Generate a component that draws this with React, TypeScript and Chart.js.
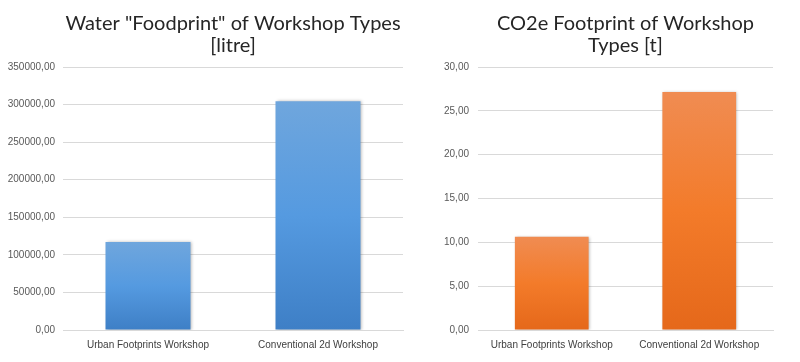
import React, { useEffect, useRef } from "react";
import { Chart, registerables } from "chart.js";

Chart.register(...registerables);

const categories = ["Urban Footprints Workshop", "Conventional 2d Workshop"];
const waterValues = [117000, 304500];
const co2Values = [10.65, 27.15];
const waterTitle = ['Water "Foodprint" of Workshop Types', "[litre]"];
const co2Title = ["CO2e Footprint of Workshop", "Types [t]"];

const shadowPlugin = {
  id: "barShadow",
  beforeDatasetsDraw(chart: any) {
    const ctx = chart.ctx;
    ctx.save();
    ctx.shadowColor = "rgba(0,0,0,0.28)";
    ctx.shadowBlur = 3;
    ctx.shadowOffsetX = 1;
    ctx.shadowOffsetY = 0;
  },
  afterDatasetsDraw(chart: any) {
    chart.ctx.restore();
  },
};

function makeConfig(
  title: string[],
  values: number[],
  max: number,
  step: number,
  topColor: string,
  bottomColor: string,
  padRight: number,
  labelPad: number
): any {
  return {
    type: "bar",
    data: {
      labels: categories,
      datasets: [
        {
          data: values,
          backgroundColor: (c: any) => {
            const area = c.chart.chartArea;
            const ys = c.chart.scales && c.chart.scales.y;
            if (!area || !ys || c.dataIndex === undefined) return bottomColor;
            const top = ys.getPixelForValue(values[c.dataIndex]);
            const g = c.chart.ctx.createLinearGradient(0, top, 0, area.bottom);
            g.addColorStop(0, topColor);
            g.addColorStop(0.5, bottomColor === "#3e7fc6" ? "#559ae0" : "#f37b2a");
            g.addColorStop(1, bottomColor);
            return g;
          },
          borderWidth: 0,
          barPercentage: 0.5,
          categoryPercentage: 1,
        },
      ],
    },
    options: {
      responsive: false,
      animation: false,
      layout: { padding: { left: 0, right: padRight, top: 0, bottom: 0 } },
      plugins: {
        legend: { display: false },
        tooltip: { enabled: false },
        title: {
          display: true,
          text: title,
          fullSize: false,
          color: "#262626",
          font: { family: "Lato", size: 20, weight: "normal", lineHeight: 1.1 },
          padding: { top: 13, bottom: 10 },
        },
      },
      scales: {
        x: {
          grid: { display: false, drawTicks: false },
          border: { display: true, color: "#d9d9d9", width: 1 },
          ticks: {
            color: "#404040",
            font: { family: "Liberation Sans", size: 10 },
            padding: 9,
            maxRotation: 0,
          },
          afterFit: (s: any) => {
            s.height = 32;
          },
        },
        y: {
          min: 0,
          max: max,
          grid: { color: "#d9d9d9", drawTicks: false, lineWidth: 1 },
          border: { display: false },
          ticks: {
            stepSize: step,
            color: "#595959",
            font: { family: "Liberation Sans", size: 10 },
            padding: labelPad,
            callback: (v: any) => Number(v).toFixed(2).replace(".", ","),
          },
          afterFit: (s: any) => {
            s.width = 63;
          },
        },
      },
    },
    plugins: [shadowPlugin],
  };
}

function ChartCanvas(props: { config: any; width: number; height: number; left: number }) {
  const ref = useRef<HTMLCanvasElement>(null);
  useEffect(() => {
    if (!ref.current) return;
    const chart = new Chart(ref.current, props.config);
    return () => chart.destroy();
  }, []);
  return (
    <canvas
      ref={ref}
      width={props.width}
      height={props.height}
      style={{ position: "absolute", left: props.left, top: 0, width: props.width, height: props.height }}
    />
  );
}

export default function App() {
  const waterConfig = makeConfig(waterTitle, waterValues, 350000, 50000, "#6fa6dd", "#3e7fc6", 7, 8);
  const co2Config = makeConfig(co2Title, co2Values, 30, 5, "#f08c52", "#e5681a", 27, 9);
  return (
    <div style={{ position: "fixed", left: 0, top: 0, width: 800, height: 362, background: "#fff" }}>
      <ChartCanvas config={waterConfig} width={410} height={362} left={0} />
      <ChartCanvas config={co2Config} width={385} height={362} left={415} />
    </div>
  );
}
